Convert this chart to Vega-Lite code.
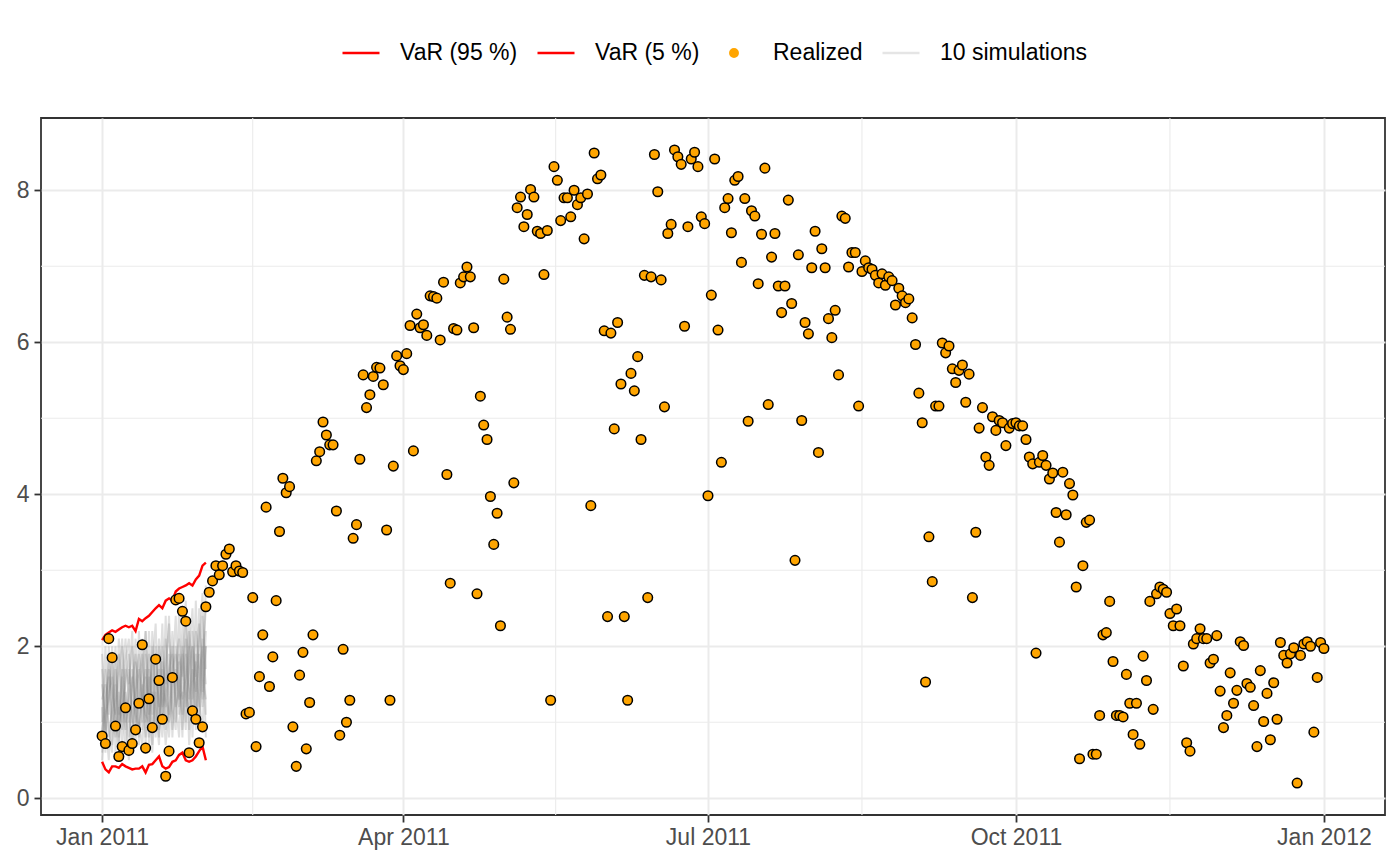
{
  "$schema": "https://vega.github.io/schema/vega-lite/v6.json",
  "width": 1344,
  "height": 697,
  "autosize": {"type": "none"},
  "padding": {"left": 41, "top": 118, "right": 15, "bottom": 51},
  "background": "white",
  "datasets": {
    "realized": [
      {"date":"2011-01-01","value":0.82},{"date":"2011-01-02","value":0.72},{"date":"2011-01-03","value":2.10},{"date":"2011-01-04","value":1.85},{"date":"2011-01-05","value":0.95},{"date":"2011-01-06","value":0.55},{"date":"2011-01-07","value":0.68},{"date":"2011-01-08","value":1.19},{"date":"2011-01-09","value":0.63},{"date":"2011-01-10","value":0.72},{"date":"2011-01-11","value":0.90},{"date":"2011-01-12","value":1.25},{"date":"2011-01-13","value":2.02},{"date":"2011-01-14","value":0.66},{"date":"2011-01-15","value":1.31},{"date":"2011-01-16","value":0.93},{"date":"2011-01-17","value":1.83},{"date":"2011-01-18","value":1.55},{"date":"2011-01-19","value":1.04},{"date":"2011-01-20","value":0.29},{"date":"2011-01-21","value":0.62},{"date":"2011-01-22","value":1.59},{"date":"2011-01-23","value":2.61},{"date":"2011-01-24","value":2.63},{"date":"2011-01-25","value":2.46},{"date":"2011-01-26","value":2.33},{"date":"2011-01-27","value":0.60},{"date":"2011-01-28","value":1.15},{"date":"2011-01-29","value":1.04},{"date":"2011-01-30","value":0.73},{"date":"2011-01-31","value":0.94},
      {"date":"2011-02-01","value":2.52},{"date":"2011-02-02","value":2.71},{"date":"2011-02-03","value":2.86},{"date":"2011-02-04","value":3.06},{"date":"2011-02-05","value":2.94},{"date":"2011-02-06","value":3.06},{"date":"2011-02-07","value":3.21},{"date":"2011-02-08","value":3.28},{"date":"2011-02-09","value":2.98},{"date":"2011-02-10","value":3.06},{"date":"2011-02-11","value":2.99},{"date":"2011-02-12","value":2.97},{"date":"2011-02-13","value":1.11},{"date":"2011-02-14","value":1.13},{"date":"2011-02-15","value":2.64},{"date":"2011-02-16","value":0.68},{"date":"2011-02-17","value":1.60},{"date":"2011-02-18","value":2.15},{"date":"2011-02-19","value":3.83},{"date":"2011-02-20","value":1.47},{"date":"2011-02-21","value":1.86},{"date":"2011-02-22","value":2.60},{"date":"2011-02-23","value":3.51},{"date":"2011-02-24","value":4.21},{"date":"2011-02-25","value":4.02},{"date":"2011-02-26","value":4.10},{"date":"2011-02-27","value":0.94},{"date":"2011-02-28","value":0.42},
      {"date":"2011-03-01","value":1.62},{"date":"2011-03-02","value":1.92},{"date":"2011-03-03","value":0.65},{"date":"2011-03-04","value":1.26},{"date":"2011-03-05","value":2.15},{"date":"2011-03-06","value":4.44},{"date":"2011-03-07","value":4.56},{"date":"2011-03-08","value":4.95},{"date":"2011-03-09","value":4.78},{"date":"2011-03-10","value":4.65},{"date":"2011-03-11","value":4.65},{"date":"2011-03-12","value":3.78},{"date":"2011-03-13","value":0.83},{"date":"2011-03-14","value":1.96},{"date":"2011-03-15","value":1.00},{"date":"2011-03-16","value":1.29},{"date":"2011-03-17","value":3.42},{"date":"2011-03-18","value":3.60},{"date":"2011-03-19","value":4.46},{"date":"2011-03-20","value":5.57},{"date":"2011-03-21","value":5.14},{"date":"2011-03-22","value":5.31},{"date":"2011-03-23","value":5.55},{"date":"2011-03-24","value":5.67},{"date":"2011-03-25","value":5.66},{"date":"2011-03-26","value":5.44},{"date":"2011-03-27","value":3.53},{"date":"2011-03-28","value":1.29},{"date":"2011-03-29","value":4.37},{"date":"2011-03-30","value":5.82},{"date":"2011-03-31","value":5.69},
      {"date":"2011-04-01","value":5.64},{"date":"2011-04-02","value":5.85},{"date":"2011-04-03","value":6.22},{"date":"2011-04-04","value":4.57},{"date":"2011-04-05","value":6.37},{"date":"2011-04-06","value":6.19},{"date":"2011-04-07","value":6.23},{"date":"2011-04-08","value":6.09},{"date":"2011-04-09","value":6.61},{"date":"2011-04-10","value":6.60},{"date":"2011-04-11","value":6.58},{"date":"2011-04-12","value":6.03},{"date":"2011-04-13","value":6.79},{"date":"2011-04-14","value":4.26},{"date":"2011-04-15","value":2.83},{"date":"2011-04-16","value":6.18},{"date":"2011-04-17","value":6.16},{"date":"2011-04-18","value":6.78},{"date":"2011-04-19","value":6.86},{"date":"2011-04-20","value":6.99},{"date":"2011-04-21","value":6.86},{"date":"2011-04-22","value":6.19},{"date":"2011-04-23","value":2.69},{"date":"2011-04-24","value":5.29},{"date":"2011-04-25","value":4.91},{"date":"2011-04-26","value":4.72},{"date":"2011-04-27","value":3.97},{"date":"2011-04-28","value":3.34},{"date":"2011-04-29","value":3.75},{"date":"2011-04-30","value":2.27},
      {"date":"2011-05-01","value":6.83},{"date":"2011-05-02","value":6.33},{"date":"2011-05-03","value":6.17},{"date":"2011-05-04","value":4.15},{"date":"2011-05-05","value":7.77},{"date":"2011-05-06","value":7.91},{"date":"2011-05-07","value":7.52},{"date":"2011-05-08","value":7.68},{"date":"2011-05-09","value":8.01},{"date":"2011-05-10","value":7.91},{"date":"2011-05-11","value":7.46},{"date":"2011-05-12","value":7.43},{"date":"2011-05-13","value":6.89},{"date":"2011-05-14","value":7.47},{"date":"2011-05-15","value":1.29},{"date":"2011-05-16","value":8.31},{"date":"2011-05-17","value":8.13},{"date":"2011-05-18","value":7.60},{"date":"2011-05-19","value":7.90},{"date":"2011-05-20","value":7.90},{"date":"2011-05-21","value":7.65},{"date":"2011-05-22","value":8.00},{"date":"2011-05-23","value":7.81},{"date":"2011-05-24","value":7.90},{"date":"2011-05-25","value":7.36},{"date":"2011-05-26","value":7.95},{"date":"2011-05-27","value":3.85},{"date":"2011-05-28","value":8.49},{"date":"2011-05-29","value":8.15},{"date":"2011-05-30","value":8.20},{"date":"2011-05-31","value":6.15},
      {"date":"2011-06-01","value":2.39},{"date":"2011-06-02","value":6.12},{"date":"2011-06-03","value":4.86},{"date":"2011-06-04","value":6.26},{"date":"2011-06-05","value":5.45},{"date":"2011-06-06","value":2.39},{"date":"2011-06-07","value":1.29},{"date":"2011-06-08","value":5.59},{"date":"2011-06-09","value":5.36},{"date":"2011-06-10","value":5.81},{"date":"2011-06-11","value":4.72},{"date":"2011-06-12","value":6.88},{"date":"2011-06-13","value":2.64},{"date":"2011-06-14","value":6.86},{"date":"2011-06-15","value":8.47},{"date":"2011-06-16","value":7.98},{"date":"2011-06-17","value":6.82},{"date":"2011-06-18","value":5.15},{"date":"2011-06-19","value":7.43},{"date":"2011-06-20","value":7.55},{"date":"2011-06-21","value":8.53},{"date":"2011-06-22","value":8.44},{"date":"2011-06-23","value":8.34},{"date":"2011-06-24","value":6.21},{"date":"2011-06-25","value":7.52},{"date":"2011-06-26","value":8.41},{"date":"2011-06-27","value":8.50},{"date":"2011-06-28","value":8.31},{"date":"2011-06-29","value":7.65},{"date":"2011-06-30","value":7.56},
      {"date":"2011-07-01","value":3.98},{"date":"2011-07-02","value":6.62},{"date":"2011-07-03","value":8.41},{"date":"2011-07-04","value":6.16},{"date":"2011-07-05","value":4.42},{"date":"2011-07-06","value":7.77},{"date":"2011-07-07","value":7.89},{"date":"2011-07-08","value":7.44},{"date":"2011-07-09","value":8.13},{"date":"2011-07-10","value":8.18},{"date":"2011-07-11","value":7.05},{"date":"2011-07-12","value":7.89},{"date":"2011-07-13","value":4.96},{"date":"2011-07-14","value":7.73},{"date":"2011-07-15","value":7.66},{"date":"2011-07-16","value":6.77},{"date":"2011-07-17","value":7.42},{"date":"2011-07-18","value":8.29},{"date":"2011-07-19","value":5.18},{"date":"2011-07-20","value":7.12},{"date":"2011-07-21","value":7.43},{"date":"2011-07-22","value":6.74},{"date":"2011-07-23","value":6.39},{"date":"2011-07-24","value":6.74},{"date":"2011-07-25","value":7.87},{"date":"2011-07-26","value":6.51},{"date":"2011-07-27","value":3.13},{"date":"2011-07-28","value":7.15},{"date":"2011-07-29","value":4.97},{"date":"2011-07-30","value":6.26},{"date":"2011-07-31","value":6.11},
      {"date":"2011-08-01","value":6.98},{"date":"2011-08-02","value":7.46},{"date":"2011-08-03","value":4.55},{"date":"2011-08-04","value":7.23},{"date":"2011-08-05","value":6.98},{"date":"2011-08-06","value":6.31},{"date":"2011-08-07","value":6.06},{"date":"2011-08-08","value":6.42},{"date":"2011-08-09","value":5.57},{"date":"2011-08-10","value":7.66},{"date":"2011-08-11","value":7.63},{"date":"2011-08-12","value":6.99},{"date":"2011-08-13","value":7.18},{"date":"2011-08-14","value":7.18},{"date":"2011-08-15","value":5.16},{"date":"2011-08-16","value":6.93},{"date":"2011-08-17","value":7.07},{"date":"2011-08-18","value":6.98},{"date":"2011-08-19","value":6.96},{"date":"2011-08-20","value":6.88},{"date":"2011-08-21","value":6.78},{"date":"2011-08-22","value":6.90},{"date":"2011-08-23","value":6.75},{"date":"2011-08-24","value":6.86},{"date":"2011-08-25","value":6.81},{"date":"2011-08-26","value":6.49},{"date":"2011-08-27","value":6.71},{"date":"2011-08-28","value":6.61},{"date":"2011-08-29","value":6.52},{"date":"2011-08-30","value":6.57},{"date":"2011-08-31","value":6.32},
      {"date":"2011-09-01","value":5.97},{"date":"2011-09-02","value":5.33},{"date":"2011-09-03","value":4.94},{"date":"2011-09-04","value":1.53},{"date":"2011-09-05","value":3.44},{"date":"2011-09-06","value":2.85},{"date":"2011-09-07","value":5.16},{"date":"2011-09-08","value":5.16},{"date":"2011-09-09","value":5.99},{"date":"2011-09-10","value":5.86},{"date":"2011-09-11","value":5.95},{"date":"2011-09-12","value":5.65},{"date":"2011-09-13","value":5.47},{"date":"2011-09-14","value":5.63},{"date":"2011-09-15","value":5.70},{"date":"2011-09-16","value":5.21},{"date":"2011-09-17","value":5.58},{"date":"2011-09-18","value":2.64},{"date":"2011-09-19","value":3.50},{"date":"2011-09-20","value":4.87},{"date":"2011-09-21","value":5.14},{"date":"2011-09-22","value":4.49},{"date":"2011-09-23","value":4.38},{"date":"2011-09-24","value":5.02},{"date":"2011-09-25","value":4.84},{"date":"2011-09-26","value":4.97},{"date":"2011-09-27","value":4.94},{"date":"2011-09-28","value":4.64},{"date":"2011-09-29","value":4.87},{"date":"2011-09-30","value":4.93},
      {"date":"2011-10-01","value":4.94},{"date":"2011-10-02","value":4.90},{"date":"2011-10-03","value":4.90},{"date":"2011-10-04","value":4.72},{"date":"2011-10-05","value":4.49},{"date":"2011-10-06","value":4.40},{"date":"2011-10-07","value":1.91},{"date":"2011-10-08","value":4.42},{"date":"2011-10-09","value":4.51},{"date":"2011-10-10","value":4.38},{"date":"2011-10-11","value":4.20},{"date":"2011-10-12","value":4.28},{"date":"2011-10-13","value":3.76},{"date":"2011-10-14","value":3.37},{"date":"2011-10-15","value":4.29},{"date":"2011-10-16","value":3.73},{"date":"2011-10-17","value":4.14},{"date":"2011-10-18","value":3.99},{"date":"2011-10-19","value":2.78},{"date":"2011-10-20","value":0.52},{"date":"2011-10-21","value":3.06},{"date":"2011-10-22","value":3.63},{"date":"2011-10-23","value":3.66},{"date":"2011-10-24","value":0.58},{"date":"2011-10-25","value":0.58},{"date":"2011-10-26","value":1.09},{"date":"2011-10-27","value":2.15},{"date":"2011-10-28","value":2.18},{"date":"2011-10-29","value":2.59},{"date":"2011-10-30","value":1.80},{"date":"2011-10-31","value":1.09},
      {"date":"2011-11-01","value":1.09},{"date":"2011-11-02","value":1.07},{"date":"2011-11-03","value":1.63},{"date":"2011-11-04","value":1.25},{"date":"2011-11-05","value":0.84},{"date":"2011-11-06","value":1.25},{"date":"2011-11-07","value":0.71},{"date":"2011-11-08","value":1.87},{"date":"2011-11-09","value":1.55},{"date":"2011-11-10","value":2.59},{"date":"2011-11-11","value":1.17},{"date":"2011-11-12","value":2.69},{"date":"2011-11-13","value":2.78},{"date":"2011-11-14","value":2.75},{"date":"2011-11-15","value":2.71},{"date":"2011-11-16","value":2.43},{"date":"2011-11-17","value":2.27},{"date":"2011-11-18","value":2.49},{"date":"2011-11-19","value":2.27},{"date":"2011-11-20","value":1.74},{"date":"2011-11-21","value":0.73},{"date":"2011-11-22","value":0.62},{"date":"2011-11-23","value":2.03},{"date":"2011-11-24","value":2.10},{"date":"2011-11-25","value":2.23},{"date":"2011-11-26","value":2.10},{"date":"2011-11-27","value":2.10},{"date":"2011-11-28","value":1.78},{"date":"2011-11-29","value":1.83},{"date":"2011-11-30","value":2.14},
      {"date":"2011-12-01","value":1.41},{"date":"2011-12-02","value":0.93},{"date":"2011-12-03","value":1.09},{"date":"2011-12-04","value":1.65},{"date":"2011-12-05","value":1.25},{"date":"2011-12-06","value":1.42},{"date":"2011-12-07","value":2.06},{"date":"2011-12-08","value":2.01},{"date":"2011-12-09","value":1.51},{"date":"2011-12-10","value":1.46},{"date":"2011-12-11","value":1.22},{"date":"2011-12-12","value":0.68},{"date":"2011-12-13","value":1.68},{"date":"2011-12-14","value":1.01},{"date":"2011-12-15","value":1.38},{"date":"2011-12-16","value":0.77},{"date":"2011-12-17","value":1.52},{"date":"2011-12-18","value":1.04},{"date":"2011-12-19","value":2.05},{"date":"2011-12-20","value":1.88},{"date":"2011-12-21","value":1.78},{"date":"2011-12-22","value":1.90},{"date":"2011-12-23","value":1.98},{"date":"2011-12-24","value":0.20},{"date":"2011-12-25","value":1.88},{"date":"2011-12-26","value":2.03},{"date":"2011-12-27","value":2.06},{"date":"2011-12-28","value":2.00},{"date":"2011-12-29","value":0.87},{"date":"2011-12-30","value":1.59},{"date":"2011-12-31","value":2.05},
      {"date":"2012-01-01","value":1.97}
    ],
    "var": [
      {"date":"2011-01-01","VaR (95 %)":2.08,"VaR (5 %)":0.48},{"date":"2011-01-02","VaR (95 %)":2.15,"VaR (5 %)":0.38},{"date":"2011-01-03","VaR (95 %)":2.18,"VaR (5 %)":0.34},{"date":"2011-01-04","VaR (95 %)":2.21,"VaR (5 %)":0.42},{"date":"2011-01-05","VaR (95 %)":2.19,"VaR (5 %)":0.42},{"date":"2011-01-06","VaR (95 %)":2.22,"VaR (5 %)":0.40},{"date":"2011-01-07","VaR (95 %)":2.25,"VaR (5 %)":0.45},{"date":"2011-01-08","VaR (95 %)":2.27,"VaR (5 %)":0.42},{"date":"2011-01-09","VaR (95 %)":2.25,"VaR (5 %)":0.40},{"date":"2011-01-10","VaR (95 %)":2.27,"VaR (5 %)":0.38},{"date":"2011-01-11","VaR (95 %)":2.20,"VaR (5 %)":0.39},{"date":"2011-01-12","VaR (95 %)":2.36,"VaR (5 %)":0.39},{"date":"2011-01-13","VaR (95 %)":2.33,"VaR (5 %)":0.42},{"date":"2011-01-14","VaR (95 %)":2.37,"VaR (5 %)":0.34},{"date":"2011-01-15","VaR (95 %)":2.40,"VaR (5 %)":0.44},{"date":"2011-01-16","VaR (95 %)":2.45,"VaR (5 %)":0.45},{"date":"2011-01-17","VaR (95 %)":2.50,"VaR (5 %)":0.50},{"date":"2011-01-18","VaR (95 %)":2.54,"VaR (5 %)":0.55},{"date":"2011-01-19","VaR (95 %)":2.50,"VaR (5 %)":0.42},{"date":"2011-01-20","VaR (95 %)":2.60,"VaR (5 %)":0.39},{"date":"2011-01-21","VaR (95 %)":2.63,"VaR (5 %)":0.41},{"date":"2011-01-22","VaR (95 %)":2.60,"VaR (5 %)":0.48},{"date":"2011-01-23","VaR (95 %)":2.72,"VaR (5 %)":0.50},{"date":"2011-01-24","VaR (95 %)":2.76,"VaR (5 %)":0.57},{"date":"2011-01-25","VaR (95 %)":2.78,"VaR (5 %)":0.60},{"date":"2011-01-26","VaR (95 %)":2.80,"VaR (5 %)":0.50},{"date":"2011-01-27","VaR (95 %)":2.83,"VaR (5 %)":0.48},{"date":"2011-01-28","VaR (95 %)":2.80,"VaR (5 %)":0.50},{"date":"2011-01-29","VaR (95 %)":2.88,"VaR (5 %)":0.55},{"date":"2011-01-30","VaR (95 %)":2.93,"VaR (5 %)":0.62},{"date":"2011-01-31","VaR (95 %)":3.06,"VaR (5 %)":0.68},{"date":"2011-02-01","VaR (95 %)":3.10,"VaR (5 %)":0.50}
    ],
    "sims": [
      {"date":"2011-01-01","s1":1.2,"s2":0.8,"s3":1.5,"s4":0.6,"s5":1.9,"s6":1.0,"s7":0.5,"s8":1.7,"s9":1.3,"s10":0.9},
      {"date":"2011-01-02","s1":0.6,"s2":1.7,"s3":1.0,"s4":1.3,"s5":0.9,"s6":2.0,"s7":1.1,"s8":0.7,"s9":1.5,"s10":1.2},
      {"date":"2011-01-03","s1":1.9,"s2":1.1,"s3":0.5,"s4":1.6,"s5":1.4,"s6":0.8,"s7":1.3,"s8":2.0,"s9":0.9,"s10":1.7},
      {"date":"2011-01-04","s1":0.9,"s2":2.0,"s3":1.3,"s4":0.7,"s5":1.6,"s6":1.2,"s7":1.8,"s8":1.1,"s9":0.6,"s10":1.4},
      {"date":"2011-01-05","s1":1.5,"s2":0.6,"s3":2.0,"s4":1.2,"s5":0.9,"s6":1.7,"s7":1.1,"s8":0.8,"s9":1.8,"s10":1.1},
      {"date":"2011-01-06","s1":0.7,"s2":1.4,"s3":1.1,"s4":1.9,"s5":2.1,"s6":0.8,"s7":1.6,"s8":1.2,"s9":1.0,"s10":0.6},
      {"date":"2011-01-07","s1":2.0,"s2":0.9,"s3":1.6,"s4":0.7,"s5":1.3,"s6":1.5,"s7":2.1,"s8":1.0,"s9":1.2,"s10":1.7},
      {"date":"2011-01-08","s1":1.1,"s2":1.8,"s3":0.6,"s4":1.4,"s5":0.9,"s6":2.1,"s7":1.3,"s8":1.7,"s9":1.5,"s10":1.0},
      {"date":"2011-01-09","s1":0.5,"s2":2.1,"s3":1.4,"s4":1.0,"s5":1.7,"s6":1.2,"s7":0.8,"s8":1.5,"s9":1.9,"s10":1.3},
      {"date":"2011-01-10","s1":1.7,"s2":0.7,"s3":2.0,"s4":1.3,"s5":1.1,"s6":0.6,"s7":1.5,"s8":2.2,"s9":1.0,"s10":1.6},
      {"date":"2011-01-11","s1":1.3,"s2":1.5,"s3":0.9,"s4":2.1,"s5":0.7,"s6":1.8,"s7":1.9,"s8":1.0,"s9":1.4,"s10":1.1},
      {"date":"2011-01-12","s1":0.8,"s2":1.9,"s3":1.3,"s4":0.7,"s5":2.2,"s6":1.0,"s7":1.4,"s8":1.6,"s9":1.7,"s10":0.9},
      {"date":"2011-01-13","s1":2.1,"s2":0.9,"s3":1.7,"s4":1.5,"s5":1.2,"s6":0.7,"s7":1.0,"s8":1.9,"s9":1.3,"s10":1.4},
      {"date":"2011-01-14","s1":1.0,"s2":1.6,"s3":2.2,"s4":0.8,"s5":1.9,"s6":1.4,"s7":2.2,"s8":0.7,"s9":1.1,"s10":1.7},
      {"date":"2011-01-15","s1":1.6,"s2":0.8,"s3":1.1,"s4":2.2,"s5":0.7,"s6":1.9,"s7":1.3,"s8":1.7,"s9":1.0,"s10":1.2},
      {"date":"2011-01-16","s1":0.7,"s2":2.2,"s3":1.4,"s4":1.1,"s5":1.7,"s6":0.9,"s7":1.8,"s8":1.3,"s9":2.0,"s10":0.6},
      {"date":"2011-01-17","s1":1.9,"s2":1.2,"s3":0.9,"s4":1.6,"s5":2.3,"s6":1.3,"s7":0.8,"s8":2.0,"s9":1.5,"s10":1.4},
      {"date":"2011-01-18","s1":1.2,"s2":0.7,"s3":2.0,"s4":1.3,"s5":0.9,"s6":2.1,"s7":1.5,"s8":1.0,"s9":1.7,"s10":0.8},
      {"date":"2011-01-19","s1":2.3,"s2":1.8,"s3":1.0,"s4":0.8,"s5":1.5,"s6":1.4,"s7":1.1,"s8":1.7,"s9":1.2,"s10":2.0},
      {"date":"2011-01-20","s1":0.9,"s2":1.5,"s3":2.1,"s4":1.7,"s5":1.2,"s6":0.7,"s7":2.4,"s8":1.1,"s9":1.4,"s10":1.3},
      {"date":"2011-01-21","s1":1.4,"s2":2.4,"s3":0.8,"s4":2.3,"s5":1.6,"s6":1.2,"s7":1.0,"s8":1.9,"s9":1.7,"s10":1.1},
      {"date":"2011-01-22","s1":2.2,"s2":0.8,"s3":1.6,"s4":1.2,"s5":1.9,"s6":1.5,"s7":1.3,"s8":0.9,"s9":2.0,"s10":1.7},
      {"date":"2011-01-23","s1":1.0,"s2":1.7,"s3":2.4,"s4":0.9,"s5":1.3,"s6":2.0,"s7":1.7,"s8":1.5,"s9":1.2,"s10":1.9},
      {"date":"2011-01-24","s1":1.8,"s2":1.2,"s3":1.1,"s4":2.5,"s5":0.8,"s6":1.5,"s7":2.1,"s8":1.9,"s9":1.4,"s10":1.3},
      {"date":"2011-01-25","s1":0.8,"s2":2.3,"s3":1.7,"s4":1.3,"s5":2.0,"s6":1.1,"s7":0.9,"s8":1.6,"s9":1.9,"s10":1.4},
      {"date":"2011-01-26","s1":2.4,"s2":1.0,"s3":2.6,"s4":1.6,"s5":1.4,"s6":1.9,"s7":1.5,"s8":2.1,"s9":1.2,"s10":0.9},
      {"date":"2011-01-27","s1":1.5,"s2":1.9,"s3":0.9,"s4":2.3,"s5":1.1,"s6":1.3,"s7":2.0,"s8":0.7,"s9":1.7,"s10":2.2},
      {"date":"2011-01-28","s1":1.1,"s2":2.5,"s3":2.0,"s4":0.8,"s5":2.2,"s6":1.7,"s7":1.3,"s8":1.5,"s9":2.0,"s10":1.7},
      {"date":"2011-01-29","s1":2.6,"s2":1.2,"s3":1.6,"s4":1.9,"s5":1.4,"s6":0.9,"s7":2.2,"s8":1.8,"s9":1.0,"s10":1.4},
      {"date":"2011-01-30","s1":1.3,"s2":2.0,"s3":2.3,"s4":1.0,"s5":0.9,"s6":2.5,"s7":1.7,"s8":1.2,"s9":1.6,"s10":1.9},
      {"date":"2011-01-31","s1":0.9,"s2":2.7,"s3":1.4,"s4":2.4,"s5":1.8,"s6":1.6,"s7":1.2,"s8":2.1,"s9":2.0,"s10":1.3},
      {"date":"2011-02-01","s1":2.0,"s2":1.1,"s3":2.8,"s4":1.7,"s5":2.5,"s6":1.3,"s7":2.2,"s8":0.8,"s9":1.5,"s10":2.0}
    ]
  },
  "layer": [
    {
      "data": {"values": [{"date": "2011-02-15"}, {"date": "2011-05-16T12:00:00Z"}, {"date": "2011-08-16"}, {"date": "2011-11-16"}]},
      "mark": {"type": "rule", "color": "#EBEBEB", "strokeWidth": 1.1},
      "encoding": {
        "x": {"field": "date", "type": "temporal", "title": null, "scale": {"type": "utc", "nice": false, "domain": [{"year": 2010, "month": 12, "date": 13, "hours": 18, "utc": true}, {"year": 2012, "month": 1, "date": 19, "hours": 6, "utc": true}]}}
      }
    },
    {
      "data": {"values": [{"value": 1}, {"value": 3}, {"value": 5}, {"value": 7}]},
      "mark": {"type": "rule", "color": "#EBEBEB", "strokeWidth": 1.1},
      "encoding": {
        "y": {"field": "value", "type": "quantitative", "title": null, "scale": {"domain": [-0.22, 8.95], "nice": false, "zero": false}}
      }
    },
    {
      "data": {"name": "sims"},
      "transform": [{"fold": ["s1", "s2", "s3", "s4", "s5", "s6", "s7", "s8", "s9", "s10"], "as": ["sim", "value"]}],
      "mark": {"type": "line", "strokeWidth": 2, "opacity": 0.25},
      "encoding": {
        "x": {"field": "date", "type": "temporal", "title": null, "scale": {"type": "utc", "nice": false, "domain": [{"year": 2010, "month": 12, "date": 13, "hours": 18, "utc": true}, {"year": 2012, "month": 1, "date": 19, "hours": 6, "utc": true}]}},
        "y": {"field": "value", "type": "quantitative", "title": null, "scale": {"domain": [-0.22, 8.95], "nice": false, "zero": false}},
        "detail": {"field": "sim", "type": "nominal"},
        "color": {
          "datum": "10 simulations", "type": "nominal", "title": null,
          "scale": {"domain": ["VaR (95 %)", "VaR (5 %)", "Realized", "10 simulations"], "range": ["#FF0000", "#FF0000", "#FFA500", "#7F7F7F"]},
          "legend": {
            "title": null, "orient": "none", "legendX": 300, "legendY": -85,
            "direction": "horizontal", "columns": 4, "padding": 0,
            "labelFont": "Liberation Sans", "labelFontSize": 23, "labelColor": "#000000",
            "labelOffset": 19, "columnPadding": 14, "symbolSize": 1369, "symbolStrokeWidth": 2.5,
            "symbolType": "stroke", "symbolOpacity": 1,
            "encode": {
              "symbols": {
                "update": {
                  "shape": {"signal": "datum.value === 'Realized' ? 'circle' : 'stroke'"},
                  "size": {"signal": "datum.value === 'Realized' ? 55 : 1369"},
                  "fill": {"signal": "datum.value === 'Realized' ? '#FFA500' : 'transparent'"},
                  "strokeOpacity": {"signal": "datum.value === '10 simulations' ? 0.2 : 1"},
                  "strokeWidth": {"value": 2.5},
                  "opacity": {"value": 1}
                }
              }
            }
          }
        }
      }
    },
    {
      "data": {"name": "var"},
      "transform": [{"fold": ["VaR (95 %)", "VaR (5 %)"], "as": ["series", "value"]}],
      "mark": {"type": "line", "strokeWidth": 2.4},
      "encoding": {
        "x": {"field": "date", "type": "temporal", "title": null, "scale": {"type": "utc", "nice": false, "domain": [{"year": 2010, "month": 12, "date": 13, "hours": 18, "utc": true}, {"year": 2012, "month": 1, "date": 19, "hours": 6, "utc": true}]}},
        "y": {"field": "value", "type": "quantitative", "title": null, "scale": {"domain": [-0.22, 8.95], "nice": false, "zero": false}},
        "color": {
          "field": "series", "type": "nominal", "title": null,
          "scale": {"domain": ["VaR (95 %)", "VaR (5 %)", "Realized", "10 simulations"], "range": ["#FF0000", "#FF0000", "#FFA500", "#7F7F7F"]},
          "legend": {
            "title": null, "orient": "none", "legendX": 300, "legendY": -85,
            "direction": "horizontal", "columns": 4, "padding": 0,
            "labelFont": "Liberation Sans", "labelFontSize": 23, "labelColor": "#000000",
            "labelOffset": 19, "columnPadding": 14, "symbolSize": 1369, "symbolStrokeWidth": 2.5,
            "symbolType": "stroke", "symbolOpacity": 1,
            "encode": {
              "symbols": {
                "update": {
                  "shape": {"signal": "datum.value === 'Realized' ? 'circle' : 'stroke'"},
                  "size": {"signal": "datum.value === 'Realized' ? 55 : 1369"},
                  "fill": {"signal": "datum.value === 'Realized' ? '#FFA500' : 'transparent'"},
                  "strokeOpacity": {"signal": "datum.value === '10 simulations' ? 0.2 : 1"},
                  "strokeWidth": {"value": 2.5},
                  "opacity": {"value": 1}
                }
              }
            }
          }
        }
      }
    },
    {
      "data": {"name": "realized"},
      "mark": {"type": "point", "shape": "circle", "filled": true, "size": 92, "stroke": "#000000", "strokeWidth": 1.5, "opacity": 1},
      "encoding": {
        "x": {
          "field": "date", "type": "temporal", "title": null,
          "scale": {"type": "utc", "nice": false, "domain": [{"year": 2010, "month": 12, "date": 13, "hours": 18, "utc": true}, {"year": 2012, "month": 1, "date": 19, "hours": 6, "utc": true}]},
          "axis": {
            "values": [{"year": 2011, "month": 1, "date": 1, "utc": true}, {"year": 2011, "month": 4, "date": 1, "utc": true}, {"year": 2011, "month": 7, "date": 1, "utc": true}, {"year": 2011, "month": 10, "date": 1, "utc": true}, {"year": 2012, "month": 1, "date": 1, "utc": true}],
            "format": "%b %Y", "grid": true, "labelPadding": 4, "labelFlush": false, "labelOverlap": false
          }
        },
        "y": {
          "field": "value", "type": "quantitative", "title": null,
          "scale": {"domain": [-0.22, 8.95], "nice": false, "zero": false},
          "axis": {"values": [0, 2, 4, 6, 8], "format": ".0f", "grid": true, "labelPadding": 5}
        },
        "color": {
          "datum": "Realized", "type": "nominal", "title": null,
          "scale": {"domain": ["VaR (95 %)", "VaR (5 %)", "Realized", "10 simulations"], "range": ["#FF0000", "#FF0000", "#FFA500", "#7F7F7F"]},
          "legend": {
            "title": null, "orient": "none", "legendX": 300, "legendY": -85,
            "direction": "horizontal", "columns": 4, "padding": 0,
            "labelFont": "Liberation Sans", "labelFontSize": 23, "labelColor": "#000000",
            "labelOffset": 19, "columnPadding": 14, "symbolSize": 1369, "symbolStrokeWidth": 2.5,
            "symbolType": "stroke", "symbolOpacity": 1,
            "encode": {
              "symbols": {
                "update": {
                  "shape": {"signal": "datum.value === 'Realized' ? 'circle' : 'stroke'"},
                  "size": {"signal": "datum.value === 'Realized' ? 55 : 1369"},
                  "fill": {"signal": "datum.value === 'Realized' ? '#FFA500' : 'transparent'"},
                  "strokeOpacity": {"signal": "datum.value === '10 simulations' ? 0.2 : 1"},
                  "strokeWidth": {"value": 2.5},
                  "opacity": {"value": 1}
                }
              }
            }
          }
        }
      }
    }
  ],
  "config": {
    "font": "Liberation Sans",
    "view": {"stroke": "#333333", "strokeWidth": 1.8},
    "axis": {
      "domain": false, "labelFont": "Liberation Sans", "labelFontSize": 23, "labelColor": "#4D4D4D",
      "tickColor": "#333333", "tickWidth": 1.8, "tickSize": 7,
      "gridColor": "#EBEBEB", "gridWidth": 2
    }
  }
}
